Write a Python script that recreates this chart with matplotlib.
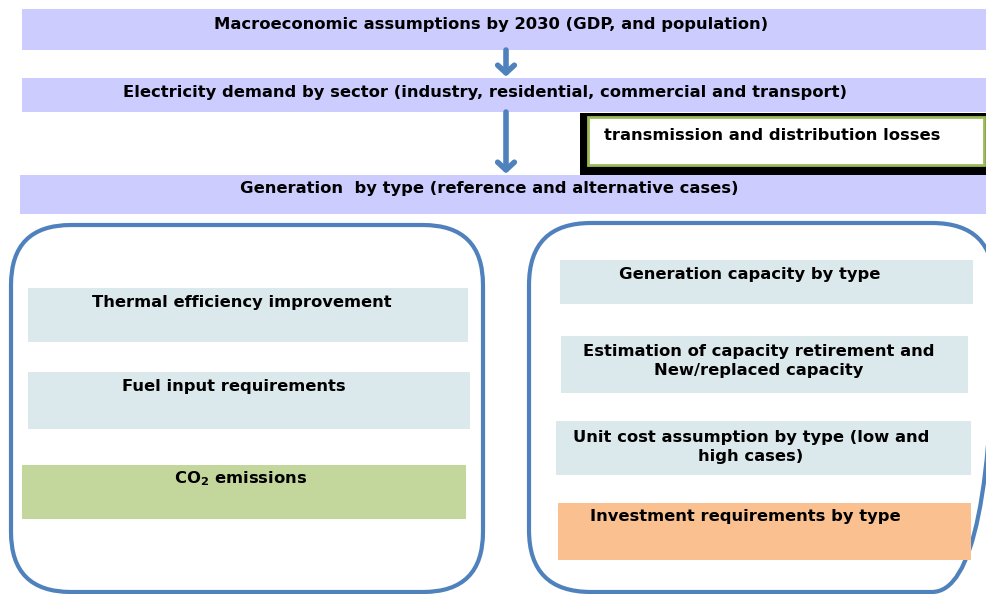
import matplotlib.pyplot as plt
from matplotlib.patches import Rectangle, FancyBboxPatch

plt.rcParams['font.family'] = ['DejaVu Sans']
plt.rcParams['mathtext.fontset'] = 'dejavusans'

# texts of the chart
top_labels = ["Macroeconomic assumptions by 2030 (GDP, and population)",
              "Electricity demand by sector (industry, residential, commercial and transport)",
              "Generation  by type (reference and alternative cases)"]
loss_label = "transmission and distribution losses"
left_labels = ["Thermal efficiency improvement",
               "Fuel input requirements",
               r"$\mathbf{CO_2}$ emissions"]
right_labels = ["Generation capacity by type",
                "Estimation of capacity retirement and\nNew/replaced capacity",
                "Unit cost assumption by type (low and\nhigh cases)",
                "Investment requirements by type"]

# layout in pixels: x0, y0, x1, y1, text x, text y
top_boxes = [(22, 9, 990, 50, 491, 24),
             (22, 78, 990, 112, 485, 93),
             (20, 175, 990, 214, 489, 189)]
left_boxes = [(28, 288, 468, 342, 242, 302),
              (28, 372, 470, 429, 234, 386),
              (22, 465, 466, 519, 241, 479)]
right_boxes = [(560, 260, 973, 304, 750, 274),
               (561, 336, 968, 393, 759, 361),
               (556, 421, 971, 475, 751, 447),
               (558, 503, 971, 560, 745, 517)]
left_colors = ['#DBE8EC', '#DBE8EC', '#C3D69B']
right_colors = ['#DBE8EC', '#DBE8EC', '#DBE8EC', '#FAC090']

blue = '#4F81BD'
fs = 11.8

fig = plt.figure(figsize=(9.86, 5.94), dpi=100)
ax = fig.add_axes([0, 0, 1, 1])
ax.set_xlim(0, 986)
ax.set_ylim(594, 0)
ax.axis('off')

def box(b, color, label):
    x0, y0, x1, y1, tx, ty = b
    ax.add_patch(Rectangle((x0, y0), x1 - x0, y1 - y0, facecolor=color, edgecolor='none'))
    ax.text(tx, ty, label, ha='center', va='center', fontsize=fs, fontweight='bold',
            linespacing=1.4)

for b, lab in zip(top_boxes, top_labels):
    box(b, '#CCCCFF', lab)

# losses box
ax.add_patch(Rectangle((580, 113), 410, 62, facecolor='black', edgecolor='none'))
ax.add_patch(Rectangle((588, 117), 396, 48, facecolor='white', edgecolor='#9BBB59', lw=2))
ax.text(604, 135, loss_label, ha='left', va='center', fontsize=fs, fontweight='bold')

# arrows
for ys, ye in [(50, 78), (112, 175)]:
    ax.annotate('', xy=(506, ye), xytext=(506, ys),
                arrowprops=dict(arrowstyle='->,head_length=0.55,head_width=0.6',
                                color=blue, lw=4, shrinkA=0, shrinkB=1))

# rounded frames
ax.add_patch(FancyBboxPatch((11, 225), 472, 367, boxstyle='round,pad=0,rounding_size=60',
                            facecolor='none', edgecolor=blue, lw=3))
ax.add_patch(FancyBboxPatch((529, 223), 465, 369, boxstyle='round,pad=0,rounding_size=62',
                            facecolor='none', edgecolor=blue, lw=3))

for b, c, lab in zip(left_boxes, left_colors, left_labels):
    box(b, c, lab)
for b, c, lab in zip(right_boxes, right_colors, right_labels):
    box(b, c, lab)

fig.savefig('out.png', dpi=100)
